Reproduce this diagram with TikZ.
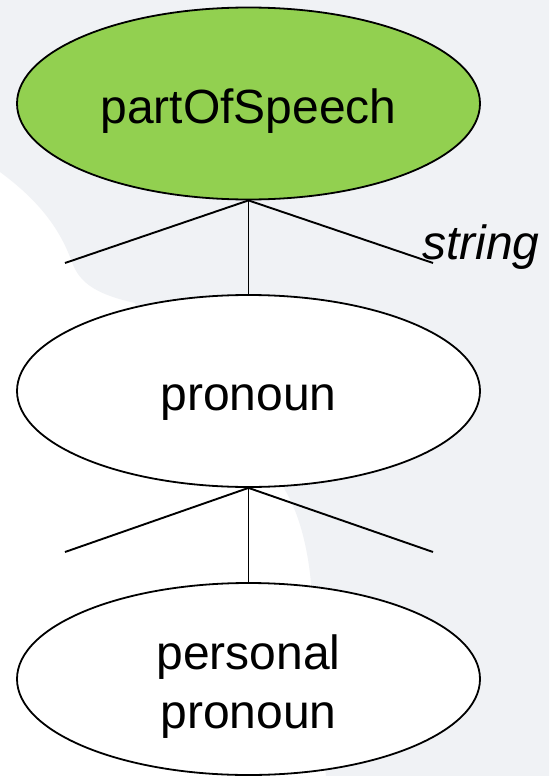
\documentclass[tikz,border=0pt]{standalone}
\usepackage{fontspec}
\setmainfont{Liberation Sans}
\usetikzlibrary{shapes.geometric}
\definecolor{bggrey}{HTML}{F0F2F5}
\definecolor{classgreen}{HTML}{92D050}
\tikzset{
  cls/.style={ellipse, draw=black, line width=1.8pt, minimum width=463pt, minimum height=192pt, inner sep=0pt},
  lbl/.style={anchor=base, inner sep=0pt, font=\fontsize{48}{59}\selectfont, align=center},
  link/.style={line width=1.9pt, draw=black}
}
\begin{document}
\begin{tikzpicture}[x=1pt, y=-1pt]
\useasboundingbox (0,0) rectangle (549,776);
\fill[white] (0,0) rectangle (549,776);
% background decoration
\fill[bggrey] (0,0) -- (549,0) -- (549,776) -- (326,776)
  -- (318,700) .. controls (314,640) and (312,600) .. (311,583)
  .. controls (308,550) and (300,515) .. (285,490)
  -- (250,400) -- (140,320) -- (135,303)
  .. controls (100,295) and (80,285) .. (72,262)
  .. controls (62,235) and (45,205) .. (0,172) -- cycle;
% class nodes
\node[cls, fill=classgreen] (pos) at (248.5,103.5) {};
\node[cls, fill=white] (pron) at (248.5,391) {};
\node[cls, fill=white] (pers) at (248.5,679) {};
% labels
\node[lbl] (tpos) at (248.5,123) {partOfSpeech};
\node[lbl] (tpron) at (248.5,410) {pronoun};
\node[lbl] (tpers) at (248.5,728) {personal\\pronoun};
\node[anchor=base west, inner sep=0pt, font=\fontsize{48}{59}\selectfont\itshape] (tstr) at (422,259) {string};
% free ends
\coordinate (l1) at (65,263);
\coordinate (r1) at (433,263);
\coordinate (l2) at (65,552);
\coordinate (r2) at (433,552);
% connectors
\draw[link] (pos.south) -- (l1);
\draw[link] (pos.south) -- (r1);
\draw[link] (pos.south) -- (pron.north);
\draw[link] (pron.south) -- (l2);
\draw[link] (pron.south) -- (r2);
\draw[link] (pron.south) -- (pers.north);
\end{tikzpicture}
\end{document}
